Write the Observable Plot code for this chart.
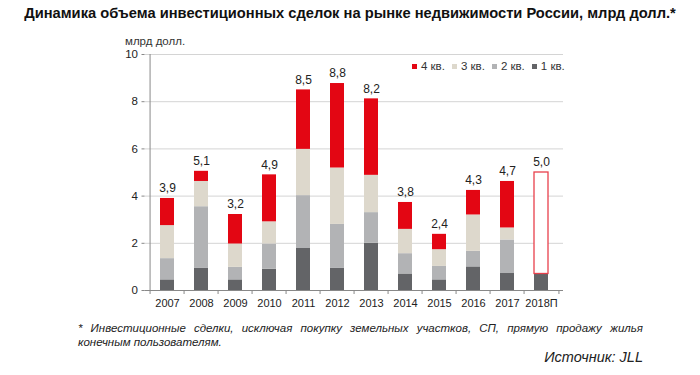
<!DOCTYPE html>
<html><head><meta charset="utf-8">
<script src="https://cdn.jsdelivr.net/npm/d3@7"></script>
<script src="https://cdn.jsdelivr.net/npm/@observablehq/plot@0.6"></script>
<style>
body{margin:0;background:#fff;font-family:"Liberation Sans",Arial,sans-serif;color:#222;}
#wrap{position:relative;width:700px;height:375px;overflow:hidden;}
#title{position:absolute;left:0;top:5px;width:700px;text-align:center;font-weight:bold;font-size:14.7px;color:#111;white-space:nowrap;}
#chart{position:absolute;left:0;top:30px;z-index:1;}
#ylab{position:absolute;left:125px;top:35px;font-size:11.5px;line-height:12px;color:#333;z-index:2;}
#legend{position:absolute;left:412px;top:60px;font-size:11.5px;color:#333;display:flex;z-index:2;}
#legend span.it{display:inline-flex;align-items:center;margin-right:7px;}
#legend i{display:inline-block;width:5px;height:5px;margin-right:4px;}
#foot{position:absolute;left:78px;top:321px;width:565px;font-size:11.5px;font-style:italic;line-height:14px;color:#222;z-index:2;}
#foot .l1{text-align:justify;text-align-last:justify;white-space:nowrap;}
#src{position:absolute;right:57px;top:349px;font-size:14.5px;font-style:italic;color:#222;z-index:2;}
</style></head>
<body>
<div id="wrap">
  <div id="title"></div>
  <div id="chart"></div>
  <div id="ylab"></div>
  <div id="legend"></div>
  <div id="foot"><div class="l1"></div><div class="l2"></div></div>
  <div id="src"></div>
</div>
<script>
const titleText = "Динамика объема инвестиционных сделок на рынке недвижимости России, млрд долл.*";
const unitText = "млрд долл.";
const footLines = ["* Инвестиционные сделки, исключая покупку земельных участков, СП, прямую продажу жилья", "конечным пользователям."];
const sourceText = "Источник: JLL";

const years = ["2007","2008","2009","2010","2011","2012","2013","2014","2015","2016","2017","2018П"];
const quarters = ["1 кв.","2 кв.","3 кв.","4 кв."];
const q1 = [0.45,0.95,0.45,0.90,1.78,0.95,2.00,0.70,0.45,1.00,0.72,0.70];
const q2 = [0.90,2.60,0.53,1.07,2.24,1.85,1.30,0.86,0.57,0.66,1.42,0];
const q3 = [1.40,1.07,0.99,0.94,1.96,2.39,1.58,1.03,0.71,1.54,0.51,0];
const q4 = [1.15,0.43,1.25,1.99,2.52,3.58,3.24,1.14,0.65,1.04,1.97,0];
const forecast = [null,null,null,null,null,null,null,null,null,null,null,5.0];
const totalLabels = ["3,9","5,1","3,2","4,9","8,5","8,8","8,2","3,8","2,4","4,3","4,7","5,0"];
const yTicks = [0,2,4,6,8,10];
const colors = ["#636467","#b2b3b5","#ddd8cc","#e30613"];

document.getElementById("title").textContent = titleText;
document.getElementById("ylab").textContent = unitText;
document.querySelector("#foot .l1").textContent = footLines[0];
document.querySelector("#foot .l2").textContent = footLines[1];
document.getElementById("src").textContent = sourceText;

const series = [q1,q2,q3,q4];
const rows = [];
years.forEach((y,i)=>quarters.forEach((q,j)=>rows.push({year:y, quarter:q, value:series[j][i]})));
const tops = years.map((y,i)=>({year:y, label:totalLabels[i],
  top: Math.max(q1[i]+q2[i]+q3[i]+q4[i], forecast[i] ?? 0)}));
const fc = years.map((y,i)=>({year:y, base:q1[i]+q2[i]+q3[i]+q4[i], f:forecast[i]})).filter(d=>d.f!=null);

const W = 700, H = 290, ml = 144.5, mr = 137, mt = 24, mb = 30;
const step = (W - ml - mr) / years.length;

const plot = Plot.plot({
  width: W, height: H,
  marginLeft: ml, marginRight: mr, marginTop: mt, marginBottom: mb,
  style: {fontFamily: '"Liberation Sans", Arial, sans-serif', fontSize: "11px", color: "#222", background: "transparent"},
  x: {domain: years, paddingInner: 0.6, paddingOuter: 0.3, label: null},
  y: {domain: [0, 10], label: null},
  color: {domain: quarters, range: colors},
  marks: [
    Plot.gridY(yTicks, {stroke: "#d4d4d4", strokeOpacity: 1}),
    Plot.barY(rows, {x: "year", y: "value", fill: "quarter"}),
    Plot.barY(fc, {x: "year", y1: "base", y2: "f", fill: "white", stroke: "#e8404c", strokeWidth: 1.3}),
    Plot.text(tops, {x: "year", y: "top", text: "label", dy: -10, fontSize: 12, fill: "#222"}),
    Plot.ruleY([0], {stroke: "#888"}),
    Plot.ruleX([years[0]], {x: d => d, y1: 0, y2: 10, dx: -step/2, stroke: "#888"}),
    Plot.ruleX(years, {x: d => d, y1: 0, y2: 0, insetBottom: -4, dx: -step/2, stroke: "#888"}),
    Plot.ruleX([years[years.length-1]], {x: d => d, y1: 0, y2: 0, insetBottom: -4, dx: step/2, stroke: "#888"}),
    Plot.axisY(yTicks, {tickSize: 3, tickPadding: 4, fontSize: 11.5, stroke: "#888", fill: "#222", label: null}),
    Plot.axisX({tickSize: 0, tickPadding: 9, fontSize: 11, fill: "#222", label: null})
  ]
});
document.getElementById("chart").appendChild(plot);

const leg = document.getElementById("legend");
[3,2,1,0].forEach(j=>{
  const s = document.createElement("span"); s.className = "it";
  const b = document.createElement("i"); b.style.background = colors[j];
  s.appendChild(b); s.appendChild(document.createTextNode(quarters[j]));
  leg.appendChild(s);
});
</script>
</body></html>
